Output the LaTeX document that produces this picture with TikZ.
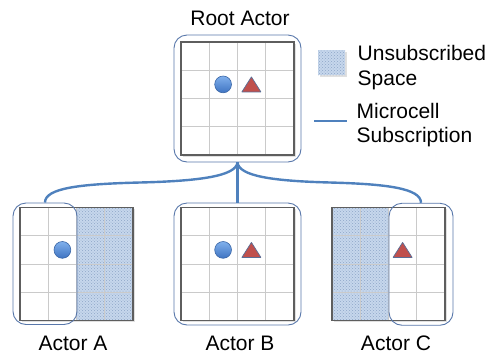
\documentclass[tikz,border=0pt]{standalone}
\usepackage{fontspec}
\setmainfont{Liberation Sans}
\usetikzlibrary{patterns}

\definecolor{linkblue}{HTML}{4F81BD}
\definecolor{frameblue}{HTML}{5877AA}
\definecolor{gridgray}{HTML}{CACACA}
\definecolor{framegray}{HTML}{5E5E5E}
\definecolor{hatchblue}{HTML}{C6D7EC}
\definecolor{hatchdot}{HTML}{8FA6C8}
\definecolor{balltop}{HTML}{80B0EC}
\definecolor{ballbot}{HTML}{3F74C2}
\definecolor{ballrim}{HTML}{3A66A6}
\definecolor{trired}{HTML}{C0504D}
\definecolor{tririm}{HTML}{5A6E96}

\tikzset{
  gridline/.style={draw=gridgray, line width=1pt},
  gridframe/.style={draw=framegray, line width=1.4pt},
  gridshadow/.style={fill=black, opacity=0.12},
  hatchfill/.style={fill=hatchblue},
  hatchdots/.style={pattern=crosshatch dots, pattern color=hatchdot},
  actorbox/.style={draw=frameblue, line width=0.9pt, rounded corners=13pt,
    inner sep=0pt, fill=none},
  link/.style={draw=linkblue, line width=2.4pt},
  ball/.style={draw=ballrim, line width=0.6pt, top color=balltop, bottom color=ballbot},
  tri/.style={draw=tririm, line width=0.7pt, fill=trired, line join=round},
  label/.style={font=\fontsize{21}{25}\selectfont, inner sep=0pt},
}

% 4x4 cell grid with its top-left corner at (#1,#2)
\newcommand\cellgrid[2]{%
  \fill[gridshadow] ({#1+1.8},{#2+1.8}) rectangle ++(113,113);
  \fill[white] (#1,#2) rectangle ++(113,113);
}
\newcommand\gridlines[2]{%
  \foreach \i in {1,2,3}{
    \draw[gridline] ({#1+\i*28.25},#2) -- ++(0,113);
    \draw[gridline] (#1,{#2+\i*28.25}) -- ++(113,0);
  }
  \draw[gridframe] (#1,#2) rectangle ++(113,113);
}
% hatched half (two columns) starting at (#1,#2)
\newcommand\hatchhalf[2]{%
  \fill[hatchfill] (#1,#2) rectangle ++(56.5,113);
  \fill[hatchdots] (#1,#2) rectangle ++(56.5,113);
}
\newcommand\ballat[2]{\draw[ball] (#1,#2) circle (8.4);}
\newcommand\triat[2]{\draw[tri] ({#1-9.5},{#2+7.5}) -- ({#1+9.5},{#2+7.5}) -- (#1,{#2-7.5}) -- cycle;}

\begin{document}
\begin{tikzpicture}[x=1pt, y=-1pt]
  \useasboundingbox (0,0) rectangle (489,354);

  % root grid
  \cellgrid{181}{42}
  \gridlines{181}{42}
  \ballat{223.1}{84.4}
  \triat{251.4}{84.4}

  % actor A: right half unsubscribed
  \cellgrid{20}{207.5}
  \hatchhalf{76.5}{207.5}
  \gridlines{20}{207.5}
  \ballat{62.4}{249.9}

  % actor B
  \cellgrid{181}{207.5}
  \gridlines{181}{207.5}
  \ballat{223.1}{249.9}
  \triat{251.4}{249.9}

  % actor C: left half unsubscribed
  \cellgrid{332}{207.5}
  \hatchhalf{332}{207.5}
  \gridlines{332}{207.5}
  \triat{402.6}{249.9}

  % subscription boxes
  \node[actorbox, minimum width=127pt, minimum height=127pt] (root) at (237.5,98.5) {};
  \node[actorbox, minimum width=64pt, minimum height=121.5pt] (actA) at (45,263.75) {};
  \node[actorbox, minimum width=127pt, minimum height=122pt] (actB) at (237.5,264) {};
  \node[actorbox, minimum width=64pt, minimum height=122pt] (actC) at (421,264.25) {};

  % microcell subscriptions
  \draw[link] (root.south) -- (actB.north);
  \draw[link] (root.south) .. controls (236,176) and (200,181) .. (140,182.5)
                           .. controls (80,184) and (45,188) .. (actA.north);
  \draw[link] (root.south) .. controls (239,176) and (272,181) .. (330,182.5)
                           .. controls (385,184) and (421,188) .. (actC.north);

  % labels
  \node[label] (lroot) at (240,18) {Root Actor};
  \node[label] (lA) at (73,343) {Actor A};
  \node[label] (lB) at (240,343) {Actor B};
  \node[label] (lC) at (396,343) {Actor C};

  % legend (base anchor sits on the last line)
  \fill[gridshadow] (319.5,51.5) rectangle (346.5,76.5);
  \fill[hatchfill] (318,50) rectangle (345,75);
  \fill[hatchdots] (318,50) rectangle (345,75);
  \node[label, anchor=base west, align=left, font=\fontsize{21}{25}\selectfont]
    (legspace) at (357.5,85) {Unsubscribed\\Space};
  \coordinate (legA) at (314,121);
  \coordinate (legB) at (347,121);
  \draw[link] (legA) -- (legB);
  \node[label, anchor=base west, align=left, font=\fontsize{21}{23.5}\selectfont]
    (legsub) at (356.5,142) {Microcell\\Subscription};
\end{tikzpicture}
\end{document}
